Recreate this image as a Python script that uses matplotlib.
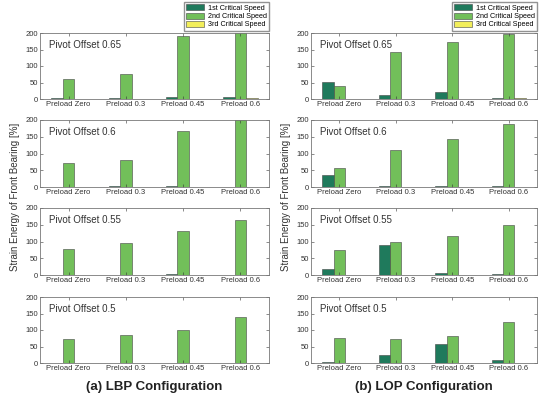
import matplotlib
matplotlib.use("Agg")
import matplotlib.pyplot as plt
import numpy as np

plt.rcParams["font.family"] = ["Liberation Sans", "DejaVu Sans"]

preloads = ["Preload Zero", "Preload 0.3", "Preload 0.45", "Preload 0.6"]
offsets = ["Pivot Offset 0.65", "Pivot Offset 0.6", "Pivot Offset 0.55", "Pivot Offset 0.5"]
series_names = ["1st Critical Speed", "2nd Critical Speed", "3rd Critical Speed"]

# LBP configuration (rows = pivot offsets)
lbp_first = [[2, 3, 6, 6], [1, 2, 4, 1], [1, 1, 2, 1], [1, 1, 1, 1]]
lbp_second = [[60, 76, 192, 210], [72, 81, 168, 205], [79, 95, 130, 165], [72, 85, 100, 138]]
lbp_third = [[1, 1, 1, 4], [1, 1, 1, 1], [1, 1, 1, 1], [1, 1, 1, 1]]

# LOP configuration
lop_first = [[53, 12, 21, 2], [35, 2, 4, 2], [17, 90, 5, 2], [4, 24, 59, 10]]
lop_second = [[38, 141, 174, 196], [57, 111, 144, 189], [75, 100, 115, 150], [76, 72, 82, 125]]
lop_third = [[1, 1, 1, 3], [1, 1, 1, 1], [1, 1, 1, 1], [1, 1, 1, 1]]

colors = ["#1f7a5c", "#72bf5a", "#f2ee5a"]
W, H = 546, 403
fig = plt.figure(figsize=(W / 100, H / 100), dpi=100)

rows_px = [(33, 99), (120, 187), (208, 275), (297, 363)]
cols_px = [(40, 269), (311, 537)]
configs = [(lbp_first, lbp_second, lbp_third), (lop_first, lop_second, lop_third)]
titles = ["(a) LBP Configuration", "(b) LOP Configuration"]

x = np.arange(len(preloads))
bw = 0.2
for c, (x0, x1) in enumerate(cols_px):
    data = configs[c]
    for r, (t, b) in enumerate(rows_px):
        ax = fig.add_axes([x0 / W, 1 - b / H, (x1 - x0) / W, (b - t) / H])
        for s in range(3):
            ax.bar(x + (s - 1) * bw, data[s][r], width=bw, color=colors[s],
                   edgecolor="#444444", linewidth=0.4, label=series_names[s])
        ax.set_xlim(-0.5, 3.5)
        ax.set_ylim(0, 200)
        ax.set_yticks([0, 50, 100, 150, 200])
        ax.set_xticks(x)
        ax.set_xticklabels(preloads)
        ax.tick_params(labelsize=5.5, direction="in", length=2, width=0.4,
                       right=True, top=True, pad=1.5, colors="#333333")
        for sp in ax.spines.values():
            sp.set_linewidth(0.6)
            sp.set_color("#777777")
        ax.text(0.04, 0.9, offsets[r], transform=ax.transAxes, fontsize=7,
                va="top", ha="left", color="#333333")
        if r == 0:
            ax.legend(loc="upper right", bbox_to_anchor=(x1 / W, 1 - 2 / H),
                      bbox_transform=fig.transFigure, fontsize=5.2, frameon=True,
                      fancybox=False, edgecolor="#777777", handlelength=2.4,
                      handleheight=0.9, borderpad=0.3, labelspacing=0.12,
                      handletextpad=0.6, borderaxespad=0)
    fig.text(((x0 + x1) / 2) / W, 1 - 387 / H, titles[c], ha="center", va="center",
             fontsize=9.5, fontweight="bold", color="#222222")
    fig.text((x0 - 25) / W, 1 - 197 / H, "Strain Energy of Front Bearing [%]",
             rotation=90, ha="center", va="center", fontsize=7, color="#333333")

fig.savefig("out.png", dpi=100)
